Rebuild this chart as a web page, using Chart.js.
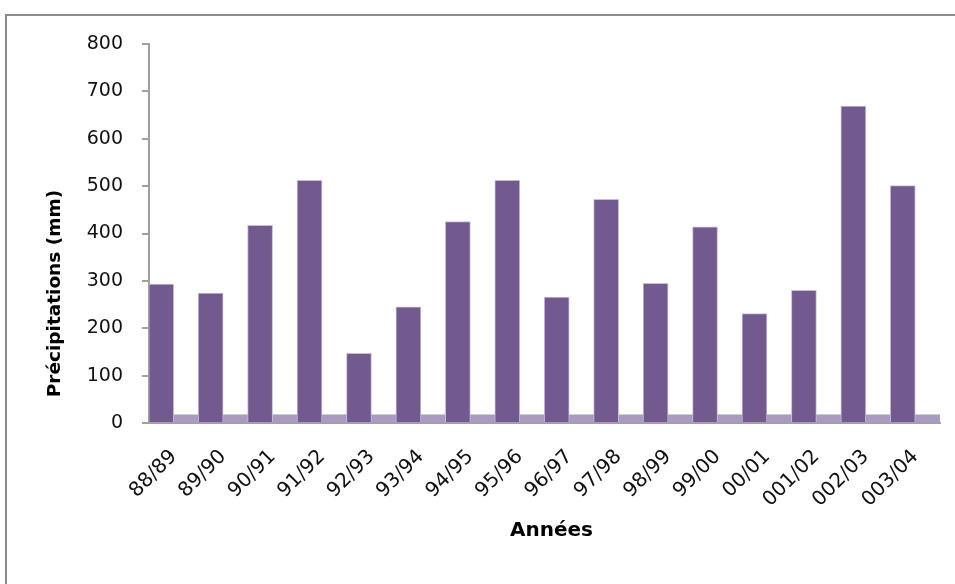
<!DOCTYPE html>
<html>
<head>
<meta charset="utf-8">
<script src="https://cdn.jsdelivr.net/npm/chart.js@4/dist/chart.umd.min.js"></script>
<style>
  html, body { margin: 0; padding: 0; background: #ffffff; overflow: hidden; }
  #frame {
    position: absolute; left: 5px; top: 14px; width: 960px; height: 580px;
    border-top: 2px solid #8c8c8c; border-left: 2px solid #8c8c8c;
  }
  #chart { position: absolute; left: 0; top: 0; }
</style>
</head>
<body>
<div id="frame"></div>
<canvas id="chart" width="955" height="584"></canvas>
<script>
// Hydrological seasons and annual rainfall (mm)
const seasons = ['88/89', '89/90', '90/91', '91/92', '92/93', '93/94', '94/95', '95/96',
                 '96/97', '97/98', '98/99', '99/00', '00/01', '001/02', '002/03', '003/04'];
const rainfall = [293, 274, 417, 512, 147, 245, 425, 512, 266, 472, 295, 414, 231, 280, 669, 501];

// Value axis
const yMin = 0;
const yMax = 800;
const yStep = 100;

// Height of the shaded floor strip along the base
const floorLevel = 18;

const FONT = 'DejaVu Sans';
const AXIS_GREY = '#a0a0a0';
const BAR_WIDTH = 25;

// Shaded floor band under the bars, placed with the value scale
const floorPlugin = {
  id: 'floor',
  beforeDatasetsDraw(chart) {
    const { ctx, chartArea, scales } = chart;
    const top = scales.y.getPixelForValue(floorLevel);
    const base = scales.y.getPixelForValue(0);
    ctx.save();
    ctx.fillStyle = '#a99bc0';
    ctx.fillRect(chartArea.left, top, chartArea.right - chartArea.left, base - top);
    ctx.restore();
  }
};

new Chart(document.getElementById('chart'), {
  type: 'bar',
  data: {
    labels: seasons,
    datasets: [
      {
        label: 'Précipitations',
        data: rainfall,
        backgroundColor: '#725a8e',
        borderColor: '#c8bcd9',
        borderWidth: 1,
        barThickness: BAR_WIDTH
      },
      {
        // empty companion slot: keeps each bar in the left half of its season
        label: '',
        data: seasons.map(() => null),
        backgroundColor: 'rgba(0,0,0,0)',
        barThickness: BAR_WIDTH
      }
    ]
  },
  plugins: [floorPlugin],
  options: {
    responsive: false,
    animation: false,
    layout: { padding: { left: 0, right: 15, top: 44, bottom: 0 } },
    plugins: { legend: { display: false }, tooltip: { enabled: false } },
    scales: {
      x: {
        type: 'category',
        offset: true,
        grid: { display: false, drawTicks: false },
        border: { display: true, color: AXIS_GREY, width: 2 },
        ticks: {
          autoSkip: false,
          minRotation: 45,
          maxRotation: 45,
          padding: 22,
          color: '#111111',
          font: { family: FONT, size: 20 }
        },
        title: {
          display: true,
          text: '  Années',
          color: '#000000',
          font: { family: FONT, size: 20, weight: 'bold' },
          padding: { top: 0, bottom: 41 }
        },
        afterFit: (s) => { s.height = 161; }
      },
      y: {
        min: yMin,
        max: yMax,
        ticks: {
          stepSize: yStep,
          padding: 19,
          color: '#111111',
          font: { family: FONT, size: 19 }
        },
        grid: {
          drawOnChartArea: false,
          drawTicks: true,
          tickLength: 7,
          color: AXIS_GREY,
          lineWidth: 2
        },
        border: { display: true, color: AXIS_GREY, width: 2 },
        title: {
          display: true,
          align: 'start',
          text: '    Précipitations (mm)',
          color: '#000000',
          font: { family: FONT, size: 18.5, weight: 'bold' },
          padding: { top: 44, bottom: 0 }
        },
        afterFit: (s) => { s.width = 149; }
      }
    }
  }
});
</script>
</body>
</html>
